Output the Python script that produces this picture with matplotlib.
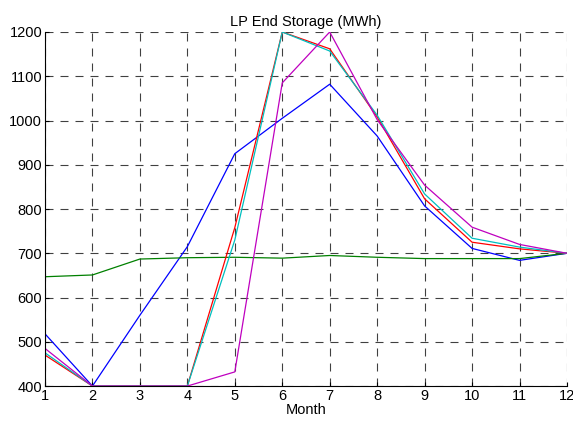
import matplotlib
matplotlib.use("Agg")
import matplotlib.pyplot as plt

months = list(range(1, 13))
blue = [518, 400, 560, 715, 925, 1005, 1082, 965, 807, 711, 684, 700]
green = [647, 651, 687, 690, 691, 689, 695, 691, 688, 688, 688, 700]
red = [470, 400, 400, 400, 758, 1200, 1162, 1008, 823, 725, 710, 700]
cyan = [475, 400, 400, 400, 730, 1200, 1157, 1012, 834, 734, 714, 700]
magenta = [485, 400, 400, 400, 432, 1085, 1200, 1002, 854, 759, 720, 700]

series = [
    (blue, "#0000ff"),
    (green, "#008000"),
    (red, "#ff0000"),
    (cyan, "#00bfbf"),
    (magenta, "#bf00bf"),
]

plt.rcParams["font.family"] = ["Liberation Sans", "DejaVu Sans"]

fig = plt.figure(figsize=(5.73, 4.21), dpi=100)
ax = fig.add_axes([0.0785, 0.083, 0.911, 0.841])

for vals, col in series:
    ax.plot(months, vals, color=col, linewidth=0.9)

ax.set_xlim(1, 12)
ax.set_ylim(400, 1200)
ax.set_xticks(months)
ax.set_yticks(range(400, 1201, 100))
ax.grid(True, color="black", linestyle=(0, (7.2, 6.3)), linewidth=0.8, alpha=0.75)
ax.tick_params(direction="in", labelsize=10.5, length=3, pad=2)
for side in ("top", "right"):
    ax.spines[side].set_visible(False)
ax.set_xlabel("Month", fontsize=10.5, labelpad=0)
ax.set_title("LP End Storage (MWh)", fontsize=10.5, pad=4)

fig.savefig("out.png", dpi=100)
